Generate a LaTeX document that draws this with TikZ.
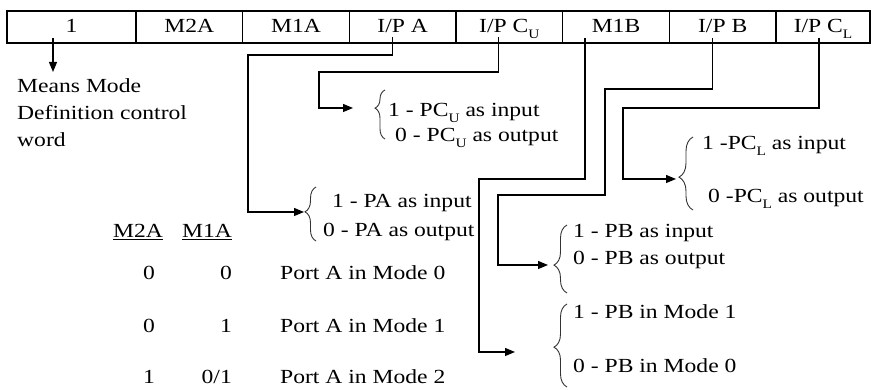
\documentclass[tikz,border=0pt]{standalone}
\usepackage{fontspec}
\setmainfont{Liberation Serif}[FakeStretch=1.18]
\usetikzlibrary{arrows.meta, positioning, calc, decorations.pathreplacing}
\newcommand{\lbfont}{\fontsize{20}{27}\selectfont}
\newcommand{\lowsub}[1]{\raisebox{-0.3em}{\fontsize{13}{13}\selectfont #1}}
\tikzset{
    cell/.style={rectangle, draw, line width=1.4pt, outer sep=0pt, inner sep=0pt,
        minimum height=32pt, minimum width=106.67pt, text height=15pt, text depth=4pt, font=\lbfont},
    lbl/.style={inner sep=0pt, anchor=base west, font=\lbfont},
    arrow/.style={-{Triangle[length=10pt, width=8pt]}, line width=1.2pt},
    brc/.style n args={2}{decorate, decoration={brace, aspect=#1, amplitude=#2}, line width=0.9pt, draw=black!80}
}

\begin{document}
\begin{tikzpicture}[x=1pt, y=1pt]
    \useasboundingbox (0,0) rectangle (871,390);

    % control word
    \node[cell, minimum width=129pt] (c1) at (71.5,363) {1};
    \node[cell, right=0pt of c1] (m2a) {M2A};
    \node[cell, right=0pt of m2a] (m1a) {M1A};
    \node[cell, right=0pt of m1a] (ipa) {I/P A};
    \node[cell, right=0pt of ipa] (ipcu) {I/P C\lowsub{U}};
    \node[cell, right=0pt of ipcu] (m1b) {M1B};
    \node[cell, right=0pt of m1b] (ipb) {I/P B};
    \node[cell, right=0pt of ipb, minimum width=94pt] (ipcl) {I/P C\lowsub{L}};

    \node[lbl, anchor=north west, align=left] (note) at (17,312) {Means Mode\\Definition control\\word};

    % mode table of port A
    \node[lbl] (h2a) at (113,152) {\underline{M2A}};
    \node[lbl] (h1a) at (182,152) {\underline{M1A}};
    \foreach \a/\b/\m/\y [count=\i] in {0/0/0/110, 0/1/1/57, 1/{0/1}/2/6} {
        \node[lbl, anchor=base east] (ra\i) at (155,\y) {\a};
        \node[lbl, anchor=base east] (rb\i) at (232,\y) {\b};
        \node[lbl] (rm\i) at (280,\y) {Port A in Mode \m};
    }

    % choices
    \node[lbl] (pcu1) at (388,273) {1 - PC\lowsub{U} as input};
    \node[lbl] (pcu0) at (395,248) {0 - PC\lowsub{U} as output};
    \node[lbl] (pa1) at (332,182) {1 - PA as input};
    \node[lbl] (pa0) at (323,153) {0 - PA as output};
    \node[lbl] (pcl1) at (702,240) {1 -PC\lowsub{L} as input};
    \node[lbl] (pcl0) at (708,187) {0 -PC\lowsub{L} as output};
    \node[lbl] (pb1) at (573,152) {1 - PB as input};
    \node[lbl] (pb0) at (573,125) {0 - PB as output};
    \node[lbl] (pbm1) at (573,71) {1 - PB in Mode 1};
    \node[lbl] (pbm0) at (573,17) {0 - PB in Mode 0};

    \draw[brc={0.63}{10}] (385,251) -- (385,300);
    \draw[brc={0.54}{11}] (316,149) -- (316,203);
    \draw[brc={0.45}{14}] (693,180) -- (693,253);
    \draw[brc={0.41}{13}] (567,97) -- (567,165);
    \draw[brc={0.48}{13}] (567,3) -- (567,86);

    % start points and bends
    \coordinate (c1S) at ($(c1.south)+(-18.5,5)$);
    \coordinate (ipaS) at ($(ipa.south)+(-10.5,6)$);
    \coordinate (ipcuS) at ($(ipcu.south)+(-10.5,6)$);
    \coordinate (m1bS) at ($(m1b.south)+(-31,5)$);
    \coordinate (ipbS) at ($(ipb.south)+(-10,5)$);
    \coordinate (ipclS) at ($(ipcl.south)+(-4,5)$);

    \coordinate (paK) at (248,335);
    \coordinate (paTip) at (304,178);
    \coordinate (pcuK) at (319,318);
    \coordinate (pcuTip) at (353,282);
    \coordinate (pbmK) at (479,211);
    \coordinate (pbmTip) at (515,38);
    \coordinate (pbK1) at (605,301);
    \coordinate (pbK2) at (498,195);
    \coordinate (pbTip) at (548,125);
    \coordinate (pclK) at (623,282);
    \coordinate (pclTip) at (676,211);

    \draw[arrow] (c1S) -- ($(note.north -| c1S)+(0,6)$);
    \draw[arrow] (ipaS) |- (paK) |- (paTip);
    \draw[arrow] (ipcuS) |- (pcuK) |- (pcuTip);
    \draw[arrow] (m1bS) |- (pbmK) |- (pbmTip);
    \draw[arrow] (ipbS) |- (pbK1) |- (pbK2) |- (pbTip);
    \draw[arrow] (ipclS) |- (pclK) |- (pclTip);

\end{tikzpicture}
\end{document}
